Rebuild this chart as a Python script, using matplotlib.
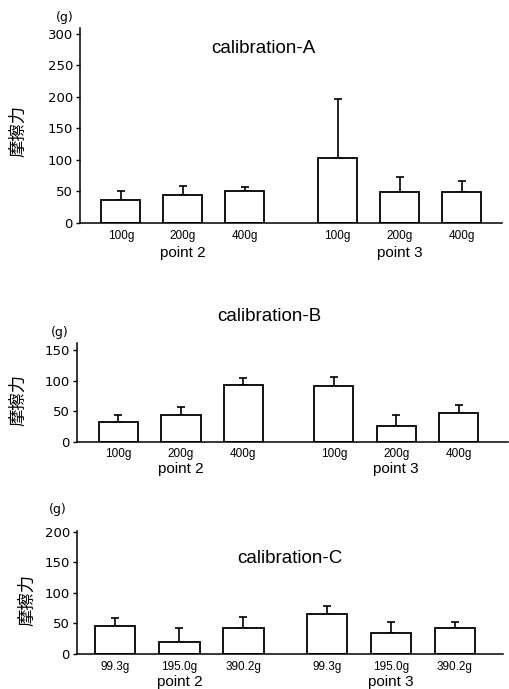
import matplotlib
matplotlib.use("Agg")
import matplotlib.pyplot as plt

# bar heights (mean) and upper error tops
labels_ab = ["100g", "200g", "400g", "100g", "200g", "400g"]
labels_c = ["99.3g", "195.0g", "390.2g", "99.3g", "195.0g", "390.2g"]
groups = ["point 2", "point 3"]

cal_a_mean = [36, 44, 50, 103, 49, 49]
cal_a_err = [15, 15, 7, 94, 24, 18]

cal_b_mean = [32, 44, 94, 91, 26, 48]
cal_b_err = [12, 14, 11, 15, 18, 13]

cal_c_mean = [46, 19, 42, 66, 34, 42]
cal_c_err = [13, 24, 18, 13, 19, 11]

JP = ["Noto Sans CJK JP", "DejaVu Sans"]


def draw_panel(fig, rect, means, errs, labels, gap, xlim, ylim, yticks, title, title_pos,
               unit_pos, ylabel_pos, tick_pad, group_off):
    ax = fig.add_axes(rect)
    xs = [0, 1, 2, 2 + gap, 3 + gap, 4 + gap]
    ax.bar(xs, means, width=0.63, color="white", edgecolor="black", linewidth=1.3, zorder=2)
    ax.errorbar(xs, means, yerr=[[0] * len(errs), errs], fmt="none", ecolor="black",
                elinewidth=1.2, capsize=2.8, capthick=1.2, zorder=1)
    ax.set_xlim(*xlim)
    ax.set_ylim(*ylim)
    ax.set_yticks(yticks)
    ax.set_xticks(xs)
    ax.set_xticklabels(labels, fontsize=8.5, family="Liberation Sans")
    ax.tick_params(axis="x", length=0, pad=tick_pad)
    ax.tick_params(axis="y", length=3, width=1, labelsize=9.5, pad=2)
    for lab in ax.get_yticklabels():
        lab.set_family("DejaVu Sans")
    for s in ["top", "right"]:
        ax.spines[s].set_visible(False)
    ax.spines["left"].set_linewidth(1.1)
    ax.spines["bottom"].set_linewidth(1.1)
    for i, g in enumerate(groups):
        cx = 1 + i * (2 + gap)
        ax.annotate(g, xy=(cx, 0), xycoords=("data", "axes fraction"),
                    xytext=(0, -group_off), textcoords="offset points",
                    ha="center", va="center", fontsize=11, family="Liberation Sans")
    fig.text(*title_pos, title, ha="center", va="center", fontsize=13.5, family="Liberation Sans")
    fig.text(*unit_pos, "(g)", ha="center", va="center", fontsize=9)
    fig.text(*ylabel_pos, "摩擦力", rotation=90, ha="center", va="center", fontsize=12.5, family=JP)
    return ax


fig = plt.figure(figsize=(5.09, 6.89), dpi=100)

draw_panel(fig, [0.157, 0.6763, 0.829, 0.283], cal_a_mean, cal_a_err, labels_ab, 1.5,
           (-0.66, 6.15), (0, 309), [0, 50, 100, 150, 200, 250, 300], "calibration-A",
           (0.517, 0.929), (0.128, 0.975), (0.035, 0.810), 5, 21.5)

draw_panel(fig, [0.151, 0.3585, 0.847, 0.1437], cal_b_mean, cal_b_err, labels_ab, 1.45,
           (-0.667, 6.24), (0, 162), [0, 50, 100, 150], "calibration-B",
           (0.530, 0.540), (0.118, 0.517), (0.035, 0.419), 4.5, 19.5)

draw_panel(fig, [0.151, 0.0508, 0.837, 0.1785], cal_c_mean, cal_c_err, labels_c, 1.3,
           (-0.6, 6.05), (0, 201), [0, 50, 100, 150, 200], "calibration-C",
           (0.570, 0.189), (0.114, 0.261), (0.053, 0.129), 5, 20)

fig.savefig("out.png", dpi=100)
